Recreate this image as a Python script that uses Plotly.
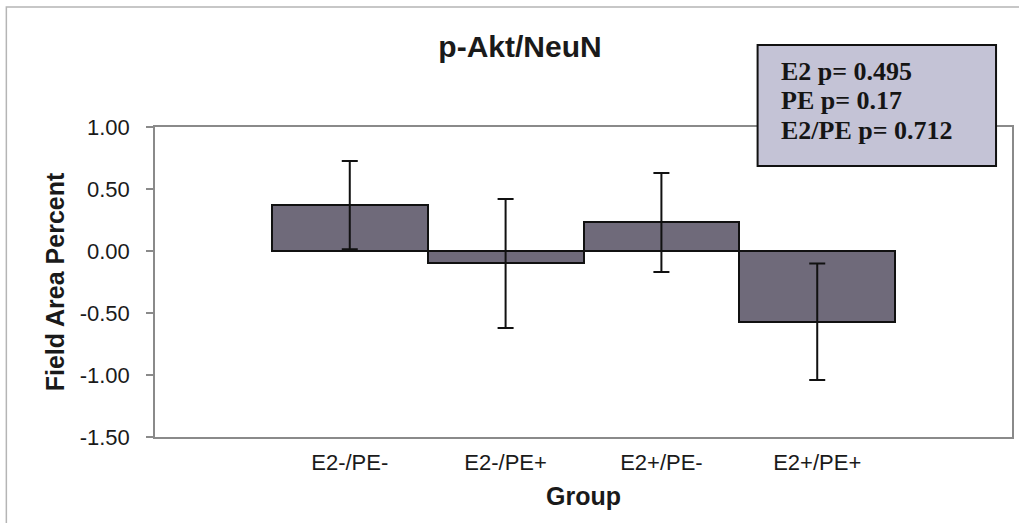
import plotly.graph_objects as go

groups = ["E2-/PE-", "E2-/PE+", "E2+/PE-", "E2+/PE+"]
means = [0.37, -0.10, 0.23, -0.57]
errors = [0.355, 0.52, 0.40, 0.47]
stats_lines = ["E2 p= 0.495", "PE p= 0.17", "E2/PE p= 0.712"]
y_ticks = [1.0, 0.5, 0.0, -0.5, -1.0, -1.5]
y_tick_text = ["1.00", "0.50", "0.00", "-0.50", "-1.00", "-1.50"]

W, H = 1019, 523
L, R, T, B = 155, 5, 127, 86
pw, ph = W - L - R, H - T - B

def px_x(x):
    return (x - L) / pw

def px_y(y):
    return (H - B - y) / ph

fig = go.Figure()
fig.add_trace(go.Bar(
    x=list(range(len(groups))), y=means,
    marker=dict(color="#6f6a7a", line=dict(color="#111111", width=2)),
    error_y=dict(type="data", array=errors, visible=True, color="#111111",
                 thickness=2, width=8),
    width=1.0, showlegend=False,
))

sans = "Liberation Sans, Arial, sans-serif"
fig.update_layout(
    width=W, height=H, autosize=False,
    margin=dict(l=L, r=R, t=T, b=B),
    paper_bgcolor="white", plot_bgcolor="white",
    bargap=0,
    title=dict(text="<b>p-Akt/NeuN</b>", x=520 / W, xref="container", xanchor="center",
               y=1 - 46 / H, yref="container", yanchor="middle",
               font=dict(family=sans, size=30, color="#1a1a1a")),
    xaxis=dict(range=[-1.25, 4.25], tickvals=list(range(len(groups))), ticktext=groups,
               showline=True, mirror=True, linecolor="#8a8a8a", linewidth=1.5,
               ticks="", showgrid=False, zeroline=False, ticklabelstandoff=5,
               tickfont=dict(family=sans, size=22, color="#1a1a1a"),
               title=dict(text="<b>Group</b>", standoff=13,
                          font=dict(family=sans, size=25, color="#1a1a1a"))),
    yaxis=dict(range=[-1.5, 1.0], tickvals=y_ticks, ticktext=y_tick_text,
               showline=True, mirror=True, linecolor="#8a8a8a", linewidth=1.5,
               ticks="outside", ticklen=7, tickcolor="#8a8a8a", tickwidth=1.5,
               showgrid=False, zeroline=False, ticklabelstandoff=12,
               tickfont=dict(family=sans, size=22, color="#1a1a1a"),
               title=dict(text="<b>Field Area Percent</b>", standoff=8,
                          font=dict(family=sans, size=25, color="#1a1a1a"))),
)

# outer chart frame
fig.add_shape(type="rect", xref="paper", yref="paper",
              x0=px_x(6), x1=px_x(1100), y0=px_y(700), y1=px_y(7),
              line=dict(color="#b5b5b5", width=1.5), fillcolor="rgba(0,0,0,0)", layer="below")

# statistics box
fig.add_shape(type="rect", xref="paper", yref="paper",
              x0=px_x(759), x1=px_x(998), y0=px_y(166), y1=px_y(45),
              line=dict(color="#111111", width=2), fillcolor="#c4c3d6", layer="above")
line_y = [72, 101, 130]
for txt, yy in zip(stats_lines, line_y):
    fig.add_annotation(xref="paper", yref="paper", x=px_x(780), y=px_y(yy),
                       xanchor="left", yanchor="middle", showarrow=False,
                       text="<b>" + txt + "</b>",
                       font=dict(family="Liberation Serif, Times New Roman, serif",
                                 size=26, color="#151515"))

fig.write_html("out.html")
